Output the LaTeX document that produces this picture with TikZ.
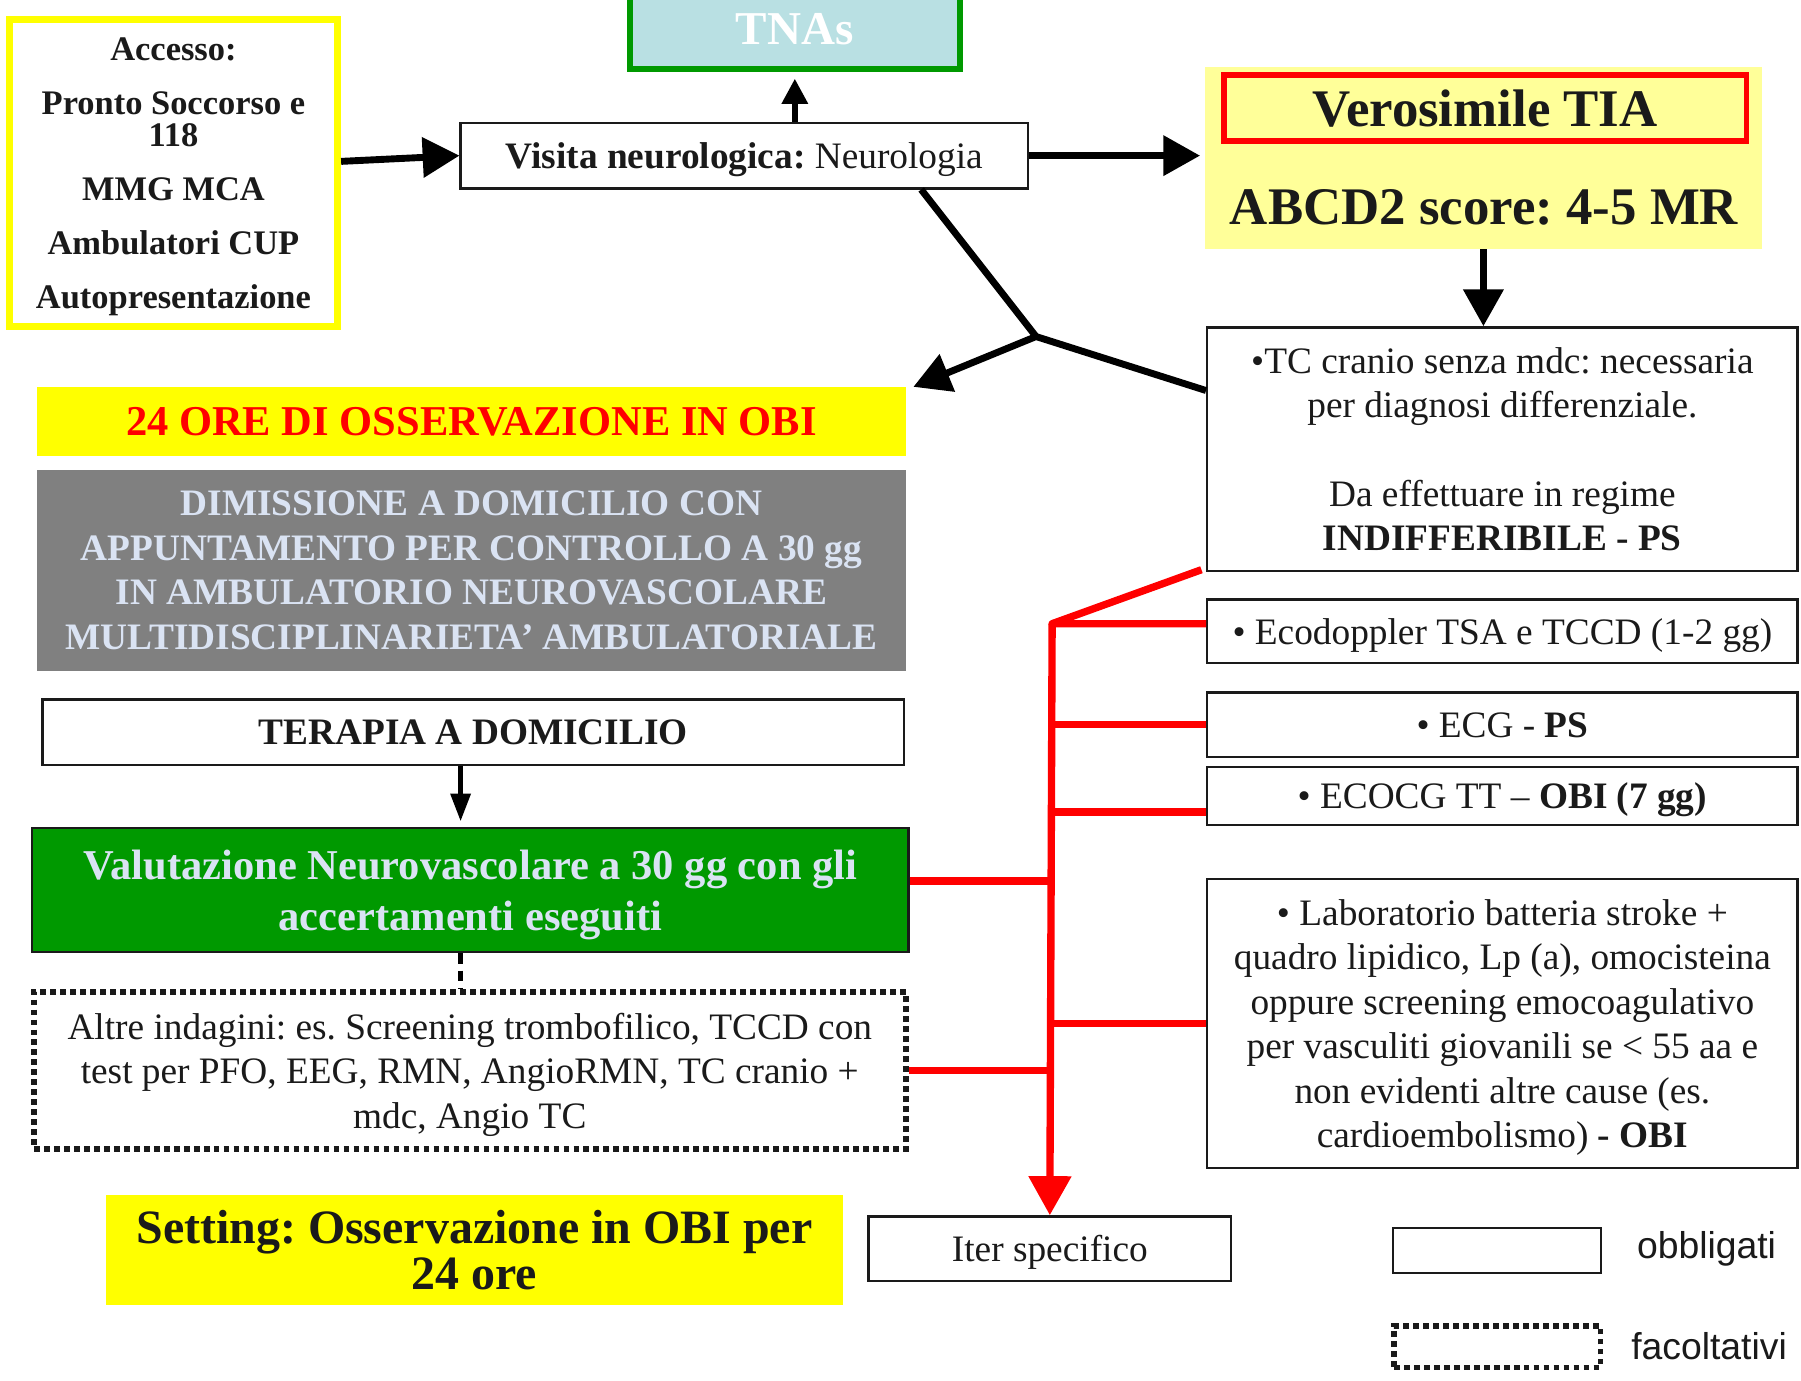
\documentclass[tikz,border=0pt]{standalone}
\usepackage{fontspec}
\setmainfont{Liberation Serif}
\newfontfamily\legendfont{Liberation Sans}
\usetikzlibrary{arrows.meta}
\definecolor{obiyellow}{HTML}{FFFF00}
\definecolor{tiayellow}{HTML}{FFFF99}
\definecolor{tnasblue}{HTML}{B9E0E3}
\definecolor{boxgreen}{HTML}{009900}
\definecolor{dimgray}{HTML}{808080}
\definecolor{paletext}{HTML}{DAE3F3}
\definecolor{inkblack}{HTML}{1A1A1A}
\newcommand{\fsbody}{\fontsize{32.5}{38.7}\selectfont}
\newcommand{\fsbig}{\fontsize{37}{44}\selectfont}
\newcommand{\fshuge}{\fontsize{46}{52}\selectfont}
\newcommand{\fsacc}{\fontsize{30}{28}\selectfont}

\begin{document}
\frenchspacing
\begin{tikzpicture}[x=1pt, y=-1pt,
    every node/.style={inner sep=0pt, align=center, font=\fsbody, text=inkblack, text depth=0pt},
    box/.style={draw=inkblack, line width=2pt, fill=white},
    optbox/.style={draw=inkblack, line width=5pt, dash pattern=on 5pt off 3.7pt},
    blk/.style={draw=black, line width=6pt, -{Triangle[length=32pt,width=34pt]}},
    redline/.style={draw=red, line width=6.4pt, line join=round}]
    \useasboundingbox (0,0) rectangle (1568,1202);
    \clip (0,0) rectangle (1568,1202);
    \fill[white] (0,0) rectangle (1568,1202);

    \node[draw=obiyellow, line width=6pt, minimum width=286pt, minimum height=267pt, font=\fsacc\bfseries] (acc) at (151,150.5) {Accesso:\\[19pt]Pronto Soccorso e\\118\\[19pt]MMG MCA\\[19pt]Ambulatori CUP\\[19pt]Autopresentazione};
    \node[draw=boxgreen, line width=5pt, fill=tnasblue, minimum width=287pt, minimum height=70pt, font=\fontsize{41}{48}\selectfont\bfseries, text=white] (tnas) at (692,25) {TNAs};
    \node[box, minimum width=494pt, minimum height=57pt] (visita) at (648,135.5) {\textbf{Visita neurologica:} Neurologia};
    \node[fill=tiayellow, minimum width=485pt, minimum height=159pt] (tia) at (1291.5,137.5) {};
    \node[draw=red, line width=5pt, minimum width=455pt, minimum height=57pt, font=\fshuge\bfseries] (tiatitle) at (1293,94) {Verosimile TIA};
    \node[font=\fshuge\bfseries] (abcd) at (1292,180) {ABCD2 score: 4-5 MR};
    \node[box, minimum width=514pt, minimum height=212pt] (tc) at (1308,391) {•TC cranio senza mdc: necessaria\\per diagnosi differenziale.\\[38.7pt]Da effettuare in regime\\\textbf{INDIFFERIBILE - PS}};

    \node[fill=obiyellow, minimum width=757pt, minimum height=60pt, font=\fsbig\bfseries, text=red] (obi) at (410.5,367) {24 ORE DI OSSERVAZIONE IN OBI};
    \node[fill=dimgray, minimum width=757pt, minimum height=175pt, font=\fsbody\bfseries, text=paletext] (dim) at (410.5,496.5) {DIMISSIONE A DOMICILIO CON\\APPUNTAMENTO PER CONTROLLO A 30 gg\\IN AMBULATORIO NEUROVASCOLARE\\MULTIDISCIPLINARIETA’ AMBULATORIALE};
    \node[box, minimum width=750pt, minimum height=57pt, font=\fsbody\bfseries] (ter) at (412,637.5) {TERAPIA A DOMICILIO};
    \node[draw=inkblack, line width=2pt, fill=boxgreen, minimum width=763pt, minimum height=108pt, font=\fsbig\bfseries, text=paletext] (val) at (409.5,775) {Valutazione Neurovascolare a 30 gg con gli\\accertamenti eseguiti};
    \node[optbox, minimum width=759pt, minimum height=137pt] (altre) at (409,932) {Altre indagini: es. Screening trombofilico, TCCD con\\test per PFO, EEG, RMN, AngioRMN, TC cranio +\\mdc, Angio TC};
    \node[fill=obiyellow, minimum width=642pt, minimum height=96pt, font=\fontsize{41.7}{40}\selectfont\bfseries] (setting) at (413,1088) {Setting: Osservazione in OBI per\\24 ore};
    \node[box, minimum width=316pt, minimum height=56pt] (iter) at (914,1087) {Iter specifico};

    \node[box, minimum width=514pt, minimum height=55pt] (eco) at (1308,549.5) {• Ecodoppler TSA e TCCD (1-2 gg)};
    \node[box, minimum width=514pt, minimum height=56pt] (ecg) at (1308,631) {• ECG - \textbf{PS}};
    \node[box, minimum width=514pt, minimum height=50pt] (ecocg) at (1308,693) {• ECOCG TT – \textbf{OBI (7 gg)}};
    \node[box, minimum width=514pt, minimum height=252pt] (lab) at (1308,891) {• Laboratorio batteria stroke +\\quadro lipidico, Lp (a), omocisteina\\oppure screening emocoagulativo\\per vasculiti giovanili se < 55 aa e\\non evidenti altre cause (es.\\cardioembolismo) \textbf{- OBI}};

    \node[box, minimum width=181pt, minimum height=39pt] (legobb) at (1303.5,1088.5) {};
    \node[optbox, minimum width=180pt, minimum height=36pt] (legfac) at (1303.5,1172.5) {};
    \node[anchor=west, font=\legendfont\fsbody] (legobbtxt) at (1425,1084) {obbligati};
    \node[anchor=west, font=\legendfont\fsbody] (legfactxt) at (1420,1172) {facoltativi};

    \coordinate (split) at (902,293);
    \coordinate (rsplit) at (916,543);

    \draw[blk] ([yshift=10pt]acc.east) -- (visita.west);
    \draw[line width=5pt, -{Triangle[length=22pt,width=22pt]}] (visita.north -| tnas.south) -- ([yshift=-6pt]tnas.south);
    \draw[blk, shorten >=4pt] (visita.east) -- (visita.east -| tia.west);
    \draw[blk] (tia.south) -- (tia.south |- tc.north);
    \draw[line width=6pt, line join=round] ([xshift=154pt]visita.south) -- (split) -- ([yshift=51pt]tc.west);
    \draw[blk, line cap=round] (split) -- ([xshift=6pt]obi.north east);
    \draw[line width=4pt, -{Triangle[length=24pt,width=17pt]}, shorten >=5pt] ([xshift=-11pt]ter.south) -- ([xshift=-8.5pt]val.north);
    \draw[line width=4.5pt, dash pattern=on 9pt off 6pt] ([xshift=-8.5pt]val.south) -- ([xshift=-8pt]altre.north);

    \draw[redline] ([xshift=-4pt,yshift=2pt]tc.south west) -- (rsplit) -- (rsplit -| eco.west);
    \draw[redline, -{Triangle[length=34pt,width=36pt]}] (rsplit) -- (iter.north);
    \draw[redline] (ecg.west) -- (ecg.west -| rsplit);
    \draw[redline] ([yshift=-14pt]ecocg.west) -- ++(-135,0);
    \draw[redline] (lab.west) -- (lab.west -| rsplit);
    \draw[redline] ([yshift=8pt]val.east) -- ++(124,0);
    \draw[redline] (altre.east) -- (altre.east -| rsplit);
\end{tikzpicture}
\end{document}
